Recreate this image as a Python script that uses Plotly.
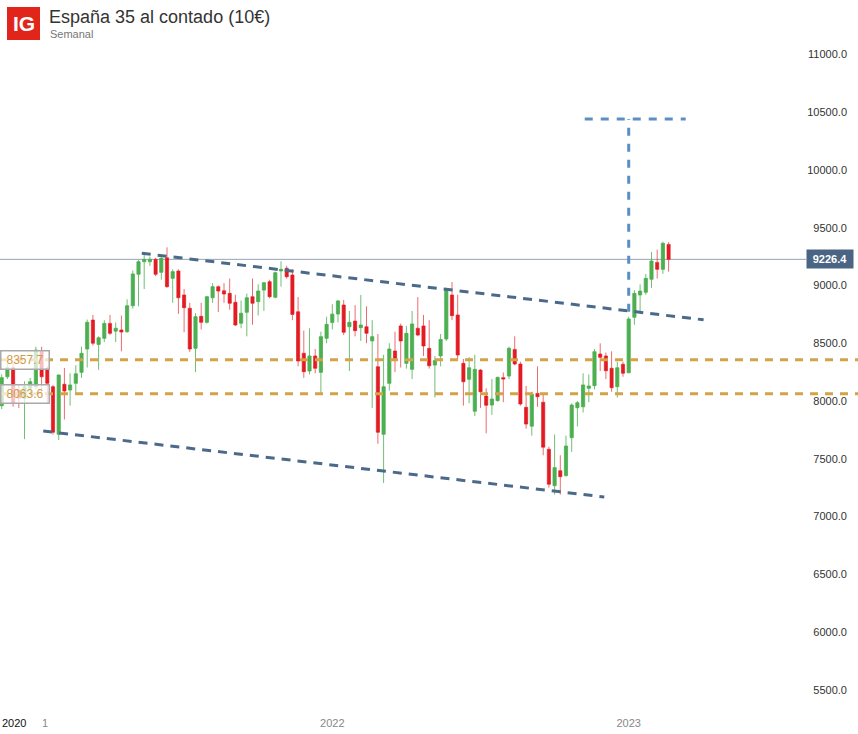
import pandas as pd
import plotly.graph_objects as go

# ---------------- data ----------------
start_week = "2020-11-23"
n_weeks = 118
opens = [7959, 8210, 8288, 8095, 8023, 8110, 8124, 8427, 8283, 8124,
         7712, 8145, 8095, 8153, 8248, 8450, 8701, 8490, 8543, 8672,
         8605, 8615, 8600, 8825, 9097, 9206, 9206, 9226, 9114, 9240,
         9062, 9125, 8918, 8803, 8456, 8733, 8681, 8894, 8990, 8955,
         8932, 8855, 8673, 8768, 8903, 8860, 8960, 9033, 8898, 9126,
         9149, 9091, 8773, 8413, 8260, 8390, 8248, 8543, 8680, 8753,
         8831, 8643, 8692, 8635, 8643, 8520, 8297, 7712, 8153, 8433,
         8650, 8326, 8274, 8630, 8650, 8456, 8311, 8390, 8537, 8918,
         8745, 8326, 8188, 7911, 8268, 8043, 7965, 8003, 8202, 8216,
         8447, 8320, 7945, 7782, 8066, 7989, 7582, 7267, 7397, 7353,
         7682, 7942, 7950, 8110, 8133, 8407, 8390, 8283, 8124, 8318,
         8245, 8725, 8918, 8941, 9054, 9200, 9140, 9356]
highs = [8230, 8320, 8330, 8140, 8170, 8200, 8470, 8470, 8300, 8140,
         8230, 8286, 8240, 8310, 8470, 8705, 8745, 8560, 8700, 8745,
         8680, 8740, 8880, 9130, 9220, 9270, 9250, 9240, 9250, 9330,
         9140, 9140, 8970, 8850, 8760, 8850, 8910, 9020, 9000, 9020,
         9060, 8920, 8870, 8930, 9060, 9010, 9030, 9050, 9120, 9210,
         9170, 9140, 8900, 8610, 8630, 8450, 8600, 8730, 8838, 8875,
         8875, 8780, 8830, 8918, 8820, 8700, 8580, 8400, 8500, 8600,
         8670, 8650, 8780, 8900, 8745, 8700, 8390, 8580, 8980, 9030,
         8920, 8365, 8380, 8400, 8275, 8110, 8190, 8210, 8247, 8470,
         8560, 8340, 8130, 8080, 8300, 8070, 7605, 7710, 7530, 7700,
         7980, 8000, 8240, 8230, 8450, 8500, 8420, 8430, 8340, 8340,
         8730, 8960, 9010, 9100, 9290, 9310, 9380, 9375]
lows = [7930, 8190, 7950, 7940, 7670, 8050, 8100, 8080, 7983, 7710,
        7662, 7840, 7960, 8052, 8200, 8290, 8480, 8270, 8510, 8570,
        8510, 8430, 8590, 8800, 8820, 8970, 9170, 9080, 9050, 8980,
        8850, 8755, 8595, 8425, 8250, 8620, 8670, 8850, 8770, 8850,
        8790, 8650, 8630, 8560, 8660, 8740, 8780, 8890, 8890, 8990,
        9060, 8700, 8300, 8200, 8230, 8240, 8060, 8500, 8620, 8680,
        8570, 8260, 8560, 8520, 8500, 7940, 7630, 7290, 8090, 8250,
        8290, 8280, 8190, 8560, 8390, 8280, 8030, 8300, 8520, 8700,
        8360, 7960, 7980, 7870, 7940, 7720, 7880, 7995, 7990, 8190,
        8310, 7960, 7760, 7700, 7950, 7530, 7250, 7190, 7190, 7350,
        7560, 7780, 7900, 7990, 8100, 8260, 8190, 8080, 8030, 8210,
        8240, 8660, 8760, 8920, 8980, 9060, 9100, 9120]
closes = [8202, 8288, 7980, 8025, 8124, 8167, 8441, 8210, 8153, 7729,
          8225, 8087, 8139, 8236, 8413, 8681, 8500, 8548, 8672, 8586,
          8630, 8597, 8825, 9100, 9206, 9226, 9226, 9097, 9235, 8990,
          9120, 8894, 8808, 8450, 8730, 8681, 8903, 8990, 8952, 8926,
          8846, 8658, 8760, 8894, 8846, 8952, 9024, 8903, 9111, 9140,
          9076, 8750, 8346, 8254, 8390, 8283, 8557, 8664, 8752, 8866,
          8595, 8681, 8609, 8658, 8586, 8557, 7729, 8124, 8450, 8369,
          8520, 8586, 8667, 8571, 8476, 8305, 8350, 8533, 8961, 8739,
          8398, 8167, 8288, 8274, 8080, 7963, 8017, 8205, 8190, 8456,
          8320, 7974, 7800, 8060, 8037, 7600, 7279, 7423, 7345, 7610,
          7965, 7985, 8139, 8130, 8427, 8378, 8262, 8115, 8288, 8240,
          8710, 8932, 8952, 9062, 9212, 9140, 9365, 9226.4]

last_price = 9226.4
level_values = [8357.7, 8063.6]
level_labels = ["8357.7", "8063.6"]

# trend channel (dates, prices)
upper_trend_x = ["2021-05-14", "2023-04-04"]
upper_trend_y = [9279, 8703]
lower_trend_x = ["2021-01-13", "2022-12-03"]
lower_trend_y = [7740, 7169]
# projected target
target_x = "2023-01-02"
target_y = [8773, 10441]
target_cap_x = ["2022-11-09", "2023-03-13"]

y_ticks = [5500, 6000, 6500, 7000, 7500, 8000, 8500, 9000, 9500, 10000, 10500, 11000]
x_tick_dates = ["2021-01-04", "2022-01-03", "2023-01-02"]
x_tick_text = ["2021", "2022", "2023"]
first_year_label = "2020"

title = "España 35 al contado (10€)"
subtitle = "Semanal"

# ---------------- figure ----------------
W, H, PH = 858, 734, 710
dates = pd.date_range(start_week, periods=n_weeks, freq="W-MON")
t0 = pd.Timestamp(start_week)
x_range = [t0 - pd.Timedelta(days=2.09), t0 + pd.Timedelta(days=1051.6)]

GREEN = "#4caf50"
RED = "#e31b23"
ORANGE = "#d4a348"
SLATE = "#4b6a89"
STEEL = "#5b8ec1"
NARROW = "Liberation Sans Narrow, Arial Narrow, Liberation Sans"

fig = go.Figure()
fig.add_trace(go.Candlestick(
    x=dates, open=opens, high=highs, low=lows, close=closes,
    increasing=dict(fillcolor=GREEN, line=dict(color="rgba(76,175,80,0.8)", width=1)),
    decreasing=dict(fillcolor=RED, line=dict(color="rgba(227,27,35,0.65)", width=1)),
    whiskerwidth=0, showlegend=False, hoverinfo="skip",
))

shapes = []
# current price line
shapes.append(dict(type="line", xref="paper", yref="y", x0=0, x1=806 / W,
                   y0=last_price, y1=last_price, line=dict(color="#95a3b5", width=1), layer="below"))
# horizontal levels
for v in level_values:
    shapes.append(dict(type="line", xref="paper", yref="y", x0=0, x1=1, y0=v, y1=v,
                       line=dict(color=ORANGE, width=3, dash="8px,7px")))
# channel
shapes.append(dict(type="line", xref="x", yref="y", x0=upper_trend_x[0], x1=upper_trend_x[1],
                   y0=upper_trend_y[0], y1=upper_trend_y[1],
                   line=dict(color=SLATE, width=3, dash="9px,7px")))
shapes.append(dict(type="line", xref="x", yref="y", x0=lower_trend_x[0], x1=lower_trend_x[1],
                   y0=lower_trend_y[0], y1=lower_trend_y[1],
                   line=dict(color=SLATE, width=3, dash="9px,7px")))
# target
shapes.append(dict(type="line", xref="x", yref="y", x0=target_x, x1=target_x,
                   y0=target_y[0], y1=target_y[1], line=dict(color=STEEL, width=3, dash="8px,8px")))
shapes.append(dict(type="line", xref="x", yref="y", x0=target_cap_x[0], x1=target_cap_x[1],
                   y0=target_y[1], y1=target_y[1], line=dict(color=STEEL, width=3, dash="8px,8px")))
# IG logo square
shapes.append(dict(type="rect", xref="paper", yref="paper",
                   x0=7 / W, x1=40 / W, y0=1 - 7 / PH, y1=1 - 40 / PH,
                   fillcolor="#e1251b", line=dict(width=0)))

annotations = []
annotations.append(dict(xref="paper", yref="paper", x=23.5 / W, y=1 - 23.5 / PH,
                        text="<b>IG</b>", showarrow=False, font=dict(color="white", size=21),
                        xanchor="center", yanchor="middle"))
annotations.append(dict(xref="paper", yref="paper", x=47 / W, y=1 - 17 / PH,
                        text=title, showarrow=False, xanchor="left", yanchor="middle",
                        font=dict(size=18, color="#333333")))
annotations.append(dict(xref="paper", yref="paper", x=48 / W, y=1 - 34 / PH,
                        text=subtitle, showarrow=False, xanchor="left", yanchor="middle",
                        font=dict(size=11, color="#777777")))
for v, lab in zip(level_values, level_labels):
    annotations.append(dict(xref="paper", yref="y", x=0, y=v, text=lab, showarrow=False,
                            xanchor="left", yanchor="middle", width=45, height=15, align="center",
                            bgcolor="rgba(255,255,255,0.72)", bordercolor="#a9a9a9",
                            borderwidth=1.5, borderpad=1,
                            font=dict(size=12, color="#d09a45")))
annotations.append(dict(xref="paper", yref="y", x=806 / W, y=last_price,
                        text="<b>9226.4</b>", showarrow=False, xanchor="left", yanchor="middle",
                        width=40, bgcolor="#4a6584", borderpad=3, font=dict(size=11, color="white")))
annotations.append(dict(xref="paper", yref="paper", x=0, y=-13 / PH,
                        text=first_year_label, showarrow=False, xanchor="left", yanchor="middle",
                        width=39, align="left", bgcolor="white", borderpad=1,
                        font=dict(size=11, color="#111111", family=NARROW)))

fig.update_layout(
    width=W, height=H,
    margin=dict(l=0, r=0, t=0, b=H - PH, pad=0),
    paper_bgcolor="white", plot_bgcolor="white",
    font=dict(family="Liberation Sans, Arial, sans-serif", color="#333333"),
    shapes=shapes, annotations=annotations,
    showlegend=False,
    boxgap=0.2,
    xaxis=dict(type="date", range=x_range, rangeslider=dict(visible=False),
               showgrid=False, zeroline=False, showline=False, ticks="",
               tickvals=x_tick_dates, ticktext=x_tick_text, ticklabelstandoff=5,
               tickfont=dict(size=11, color="#888888", family=NARROW)),
    yaxis=dict(range=[5324.7, 11471.9], side="right", ticklabelposition="inside",
               tickvals=y_ticks, ticktext=[f"{v:.1f}" for v in y_ticks],
               showgrid=False, zeroline=False, showline=False, ticks="",
               ticklabelstandoff=8,
               tickfont=dict(size=11, color="#333333")),
)

fig.write_html("out.html", config={"displayModeBar": False},
               post_script="document.body.style.margin='0';document.body.style.overflow='hidden';")
